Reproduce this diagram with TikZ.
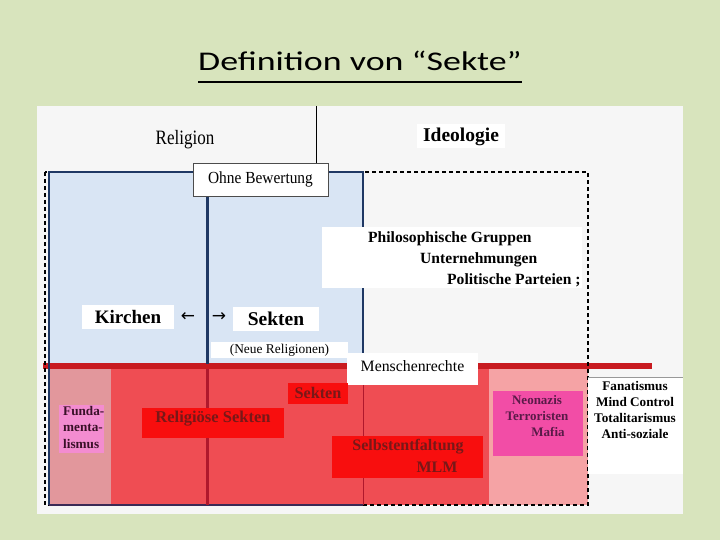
\documentclass[tikz,border=0pt]{standalone}
\usepackage{fontspec}
\usepackage{graphicx}
\setmainfont{Liberation Serif}
\newfontfamily\titlefont{Carlito}
\newfontfamily\symfont{DejaVu Sans}
\definecolor{bggreen}{HTML}{D8E4BD}
\definecolor{panel}{HTML}{F6F6F6}
\definecolor{bluefill}{HTML}{D9E5F4}
\definecolor{navy}{HTML}{1F3864}
\definecolor{bandred}{HTML}{C81B20}
\definecolor{regionred}{HTML}{EF4D53}
\definecolor{colpink}{HTML}{E2979C}
\definecolor{lightpink}{HTML}{F5A3A5}
\definecolor{labelred}{HTML}{F80E0E}
\definecolor{darkred}{HTML}{781818}
\definecolor{fundpink}{HTML}{F38CD0}
\definecolor{neopink}{HTML}{F24DA6}
\definecolor{neotext}{HTML}{5A1A48}
\definecolor{fundtext}{HTML}{3A1028}
\definecolor{redline}{HTML}{B0182C}
\definecolor{bottomline}{HTML}{3B2A55}
\begin{document}
\begin{tikzpicture}[x=1pt,y=-1pt,
  whitebox/.style={fill=white,draw=none,inner sep=0pt},
  redlabel/.style={fill=labelred,draw=none,inner sep=0pt},
  lbl/.style={inner sep=0pt,anchor=center},
  redtxt/.style={lbl,text=darkred,font=\bfseries\fontsize{16.5}{19}\selectfont},
  dashline/.style={line width=1.3pt,dash pattern=on 4pt off 3pt},
]
\useasboundingbox (0,0) rectangle (720,540);
\fill[bggreen] (0,0) rectangle (720,540);
% title
\node[inner sep=0pt,anchor=base,font=\titlefont\fontsize{27}{32}\selectfont] (title) at (360,71) {\scalebox{1.33}[1]{Definition von “Sekte”}};
\draw[line width=2.6pt] ([yshift=-11pt]title.base west) -- ([yshift=-11pt]title.base east);
% panel
\fill[panel] (37,106) rectangle (683,514);
\fill[bluefill] (49,172) rectangle (363,366);
\draw[line width=1pt] (316,106) -- (316,165);
% red regions
\fill[colpink] (50,366) rectangle (111,505);
\fill[regionred] (111,366) rectangle (489,505);
\fill[lightpink] (489,369) rectangle (588,505);
\draw[bandred,line width=5.5pt] (43,366) -- (652,366);
% dashed frame
\draw[dashline] (45,172) rectangle (588,505);
% blue frame
\draw[navy,line width=2.5pt] (49,505) -- (49,172) -- (363,172) -- (363,364);
\draw[redline,line width=1pt] (363,369) -- (363,505);
\draw[bottomline,line width=2.5pt] (49,505) -- (363,505);
\draw[navy,line width=3pt] (207,172) -- (207,364);
\draw[redline,line width=3pt] (207,369) -- (207,505);
% top labels
\node[inner sep=0pt,anchor=base,font=\fontsize{17}{20}\selectfont] (religion) at (185,145) {\scalebox{1}[1.2]{Religion}};
\node[whitebox,minimum width=88pt,minimum height=24pt] (ideobox) at (461,136) {};
\node[lbl,font=\bfseries\fontsize{19.5}{22}\selectfont] (ideologie) at (461,137) {Ideologie};
\node[fill=white,draw=black!70,line width=0.8pt,minimum width=135pt,minimum height=33pt,inner sep=0pt,font=\fontsize{15.4}{18}\selectfont] (ohne) at (260.5,179.5) {\scalebox{1}[1.1]{Ohne Bewertung}};
% philosophische
\fill[white] (322,227) rectangle (582,288);
\node[inner sep=0pt,anchor=base west,font=\bfseries\fontsize{15.6}{18}\selectfont] (philo) at (368,243) {Philosophische Gruppen};
\node[inner sep=0pt,anchor=base west,font=\bfseries\fontsize{15.6}{18}\selectfont] (unter) at (420,263) {Unternehmungen};
\node[inner sep=0pt,anchor=base west,font=\bfseries\fontsize{15.6}{18}\selectfont] (polit) at (447,284) {Politische Parteien ;};
% Kirchen / Sekten
\node[whitebox,minimum width=92pt,minimum height=24pt,font=\bfseries\fontsize{19}{22}\selectfont] (kirchen) at (128,317) {Kirchen};
\node[whitebox,minimum width=86pt,minimum height=24pt,font=\bfseries\fontsize{19.5}{22}\selectfont] (sekten) at (276,319) {Sekten};
\node[lbl,font=\symfont\fontsize{17}{20}\selectfont] (larrow) at (188,317) {←};
\node[lbl,font=\symfont\fontsize{17}{20}\selectfont] (rarrow) at (219,317) {→};
\node[whitebox,minimum width=137pt,minimum height=16pt,font=\fontsize{13.4}{16}\selectfont] (neue) at (279.5,350) {(Neue Religionen)};
\node[whitebox,minimum width=131pt,minimum height=32pt] (menschbox) at (412.5,369) {};
\node[lbl,font=\fontsize{15.8}{18}\selectfont] (mensch) at (412.5,366) {Menschenrechte};
% red labels
\node[redlabel,minimum width=60pt,minimum height=21pt] (sek2box) at (318,393.5) {};
\node[redtxt,font=\bfseries\fontsize{16.2}{19}\selectfont] (sek2) at (318,393) {Sekten};
\node[redlabel,minimum width=142pt,minimum height=30pt] (relbox) at (213,423) {};
\node[redtxt] (rel) at (213,419) {Religiöse Sekten};
\node[redlabel,minimum width=151pt,minimum height=42pt] (selbbox) at (407.5,457) {};
\node[redtxt,font=\bfseries\fontsize{16}{19}\selectfont] (selb) at (408,447) {Selbstentfaltung};
\node[redtxt,font=\bfseries\fontsize{16}{19}\selectfont] (mlm) at (437,467) {MLM};
% Fundamentalismus
\node[fill=fundpink,inner sep=0pt,minimum width=45pt,minimum height=48pt] (fundbox) at (81.5,429) {};
\node[inner sep=0pt,anchor=north west,align=left,text=fundtext,font=\bfseries\fontsize{13.2}{16.5}\selectfont] (fund) at (63,406) {Funda-\\menta-\\lismus};
% Neonazis
\node[fill=neopink,inner sep=0pt,minimum width=90pt,minimum height=65pt] (neobox) at (538,423.5) {};
\node[lbl,text=neotext,font=\bfseries\fontsize{13}{16}\selectfont] (neo1) at (537,400) {Neonazis};
\node[lbl,text=neotext,font=\bfseries\fontsize{13}{16}\selectfont] (neo2) at (537,416) {Terroristen};
\node[lbl,text=neotext,font=\bfseries\fontsize{13}{16}\selectfont] (neo3) at (548,432) {Mafia};
% Fanatismus
\fill[white] (588,378) rectangle (683,474);
\draw[black!40,line width=0.8pt] (588,377.5) -- (683,377.5);
\node[inner sep=0pt,anchor=north,align=center,font=\bfseries\fontsize{13.2}{16}\selectfont] (fanat) at (635,381) {Fanatismus\\Mind Control\\Totalitarismus\\Anti-soziale};
\end{tikzpicture}
\end{document}
